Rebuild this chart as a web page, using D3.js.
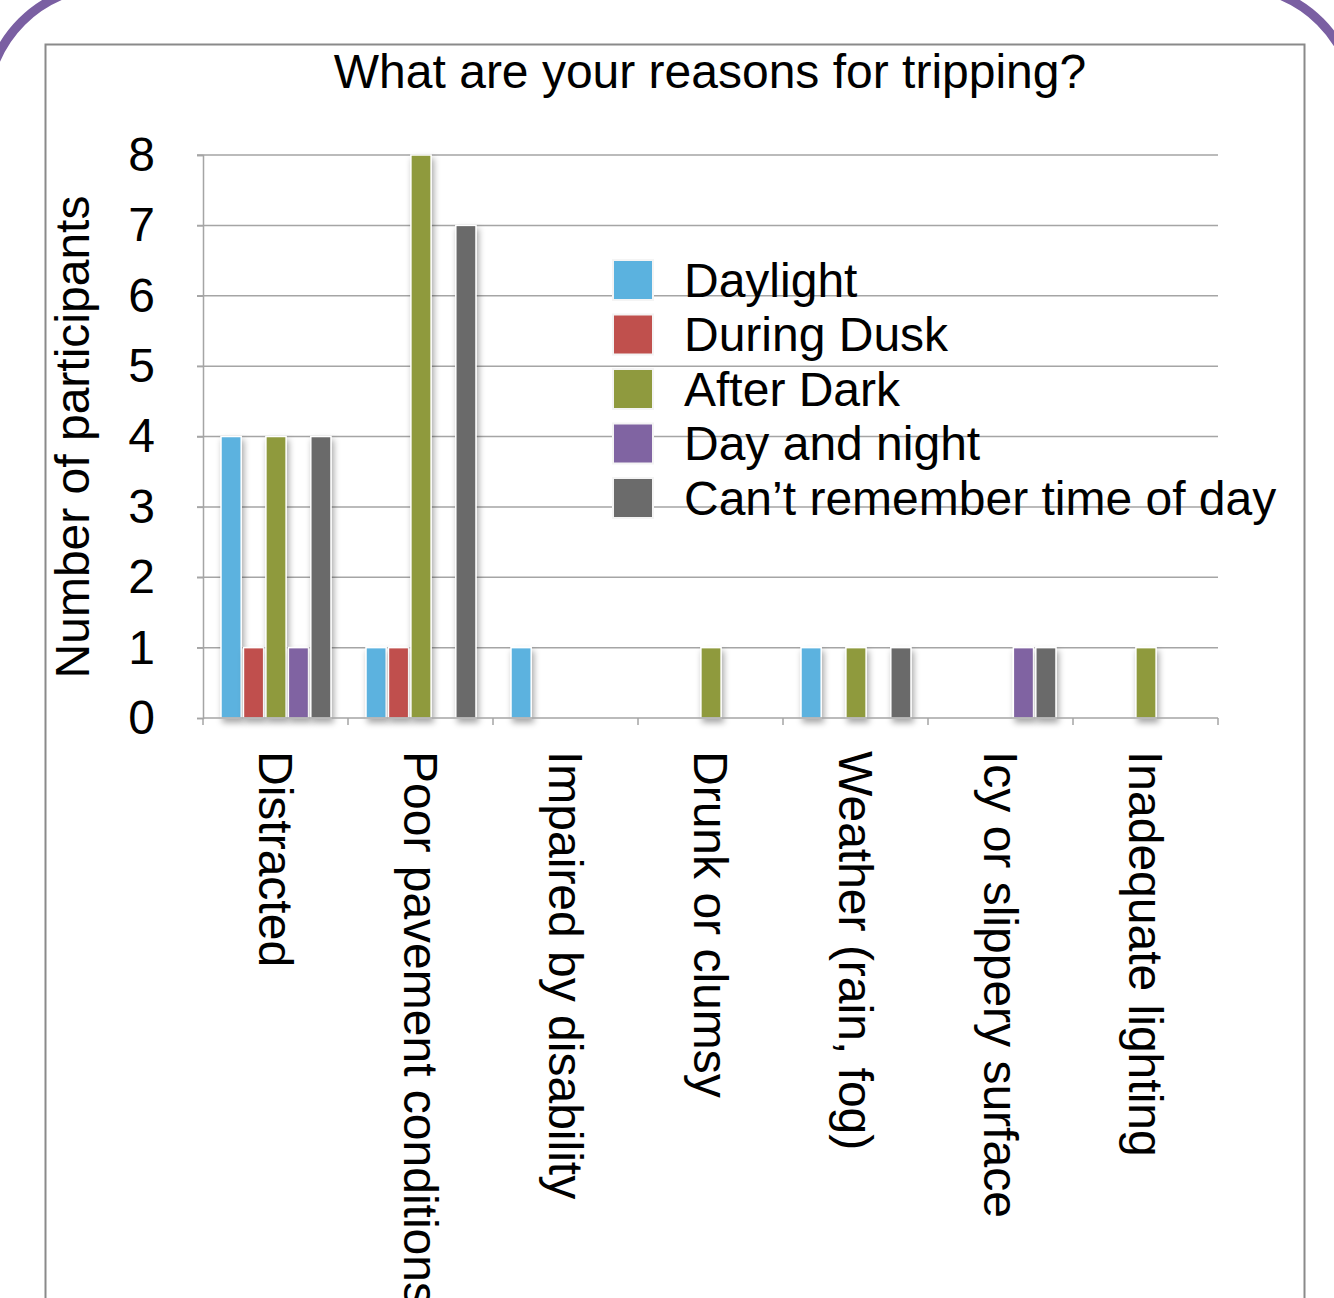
<!DOCTYPE html>
<html>
<head>
<meta charset="utf-8">
<script src="https://cdn.jsdelivr.net/npm/d3@7"></script>
<style>
  html, body { margin: 0; padding: 0; background: #fff; }
  svg { display: block; font-family: "Liberation Sans", Arial, sans-serif; }
</style>
</head>
<body>
<svg id="chart" width="1334" height="1298"></svg>
<script>
// Reasons for tripping, split by time of day
const categories = ["Distracted", "Poor pavement conditions", "Impaired by disability",
  "Drunk or clumsy", "Weather (rain, fog)", "Icy or slippery surface", "Inadequate lighting"];
const seriesNames = ["Daylight", "During Dusk", "After Dark", "Day and night", "Can\u2019t remember time of day"];
const daylight   = [4, 1, 1, 0, 1, 0, 0];
const duringDusk = [1, 1, 0, 0, 0, 0, 0];
const afterDark  = [4, 8, 0, 1, 1, 0, 1];
const dayNight   = [1, 0, 0, 0, 0, 1, 0];
const cantRemember = [4, 7, 0, 0, 1, 1, 0];
const yTicks = [0, 1, 2, 3, 4, 5, 6, 7, 8];
const colors = ["#5bb2df", "#c0504d", "#8f9a3e", "#8064a2", "#6b6b6b"];

const seriesValues = [daylight, duringDusk, afterDark, dayNight, cantRemember];
const FS = 48;

const svg = d3.select("#chart");

// slide frame corners
svg.append("rect")
  .attr("x", -14).attr("y", -14)
  .attr("width", 1334 + 36).attr("height", 1400)
  .attr("rx", 122).attr("ry", 122)
  .attr("fill", "none")
  .attr("stroke", "#7a5fa2")
  .attr("stroke-width", 9);

// chart box
svg.append("rect")
  .attr("x", 45.5).attr("y", 44.5)
  .attr("width", 1259).attr("height", 1300)
  .attr("fill", "#fff")
  .attr("stroke", "#8a8a8a")
  .attr("stroke-width", 2);

const defs = svg.append("defs");
const shadow = defs.append("filter").attr("id", "barShadow")
  .attr("x", "-50%").attr("y", "-20%").attr("width", "200%").attr("height", "150%");
shadow.append("feDropShadow")
  .attr("dx", 2).attr("dy", 4).attr("stdDeviation", 3)
  .attr("flood-color", "#000").attr("flood-opacity", 0.35);

const plot = { left: 203, right: 1218, top: 155, bottom: 718 };

const x0 = d3.scaleBand().domain(categories).range([plot.left, plot.right]);
const x1 = d3.scaleBand().domain(seriesNames).range([18, 128]).paddingInner(0.1);
const y = d3.scaleLinear().domain([0, 8]).range([plot.bottom, plot.top]);

// title
svg.append("text")
  .attr("x", 710).attr("y", 88)
  .attr("text-anchor", "middle")
  .attr("font-size", FS)
  .attr("fill", "#000")
  .text("What are your reasons for tripping?");

// gridlines
svg.append("g").selectAll("line").data(yTicks.filter(d => d > 0)).join("line")
  .attr("x1", plot.left - 6).attr("x2", plot.right)
  .attr("y1", d => y(d)).attr("y2", d => y(d))
  .attr("stroke", "#a5a5a5").attr("stroke-width", 1.5);

// y axis
const yAxis = svg.append("g")
  .attr("transform", `translate(${plot.left},0)`)
  .call(d3.axisLeft(y).tickValues(yTicks).tickSize(6).tickPadding(42).tickFormat(d3.format("d")));
yAxis.select(".domain").attr("stroke", "#a5a5a5").attr("stroke-width", 1.5);
yAxis.selectAll(".tick line").attr("stroke", "#a5a5a5").attr("stroke-width", 1.5);
yAxis.selectAll(".tick text")
  .attr("font-size", FS).attr("fill", "#000")
  .attr("font-family", "'Liberation Sans', Arial, sans-serif");

svg.append("text")
  .attr("transform", `translate(89,437) rotate(-90)`)
  .attr("text-anchor", "middle")
  .attr("font-size", FS)
  .attr("fill", "#000")
  .text("Number of participants");

// bars
const groups = svg.append("g").selectAll("g").data(categories).join("g")
  .attr("transform", d => `translate(${x0(d)},0)`);
groups.selectAll("rect")
  .data((c, i) => seriesNames.map((s, j) => ({ s, v: seriesValues[j][i], j })))
  .join("rect")
  .filter(d => d.v > 0)
  .attr("x", d => x1(d.s))
  .attr("width", x1.bandwidth())
  .attr("y", d => y(d.v))
  .attr("height", d => y(0) - y(d.v))
  .attr("fill", d => colors[d.j])
  .attr("stroke", "#fff")
  .attr("stroke-width", 1.5)
  .attr("filter", "url(#barShadow)");

// x axis
const xAxis = svg.append("g")
  .attr("transform", `translate(0,${plot.bottom})`);
xAxis.append("line")
  .attr("x1", plot.left).attr("x2", plot.right)
  .attr("stroke", "#a5a5a5").attr("stroke-width", 1.5);
const boundaries = categories.map(c => x0(c)).concat([plot.right]);
xAxis.selectAll("line.tick").data(boundaries).join("line")
  .attr("class", "tick")
  .attr("x1", d => d).attr("x2", d => d)
  .attr("y1", 0).attr("y2", 7)
  .attr("stroke", "#a5a5a5").attr("stroke-width", 1.5);
xAxis.selectAll("text").data(categories).join("text")
  .attr("transform", d => `translate(${x0(d) + x0.bandwidth() / 2},33) rotate(90)`)
  .attr("dy", "0.35em")
  .attr("font-size", FS)
  .attr("fill", "#000")
  .text(d => d);

// legend
const legend = svg.append("g").attr("transform", "translate(613,260)");
const items = legend.selectAll("g").data(seriesNames).join("g")
  .attr("transform", (d, i) => `translate(0,${i * 54.5})`);
items.append("rect")
  .attr("width", 40).attr("height", 40)
  .attr("fill", (d, i) => colors[i])
  .attr("stroke", "#f4f4f4").attr("stroke-width", 2);
items.append("text")
  .attr("x", 71).attr("y", 20)
  .attr("dy", "0.35em")
  .attr("font-size", FS)
  .attr("fill", "#000")
  .text(d => d);
</script>
</body>
</html>
